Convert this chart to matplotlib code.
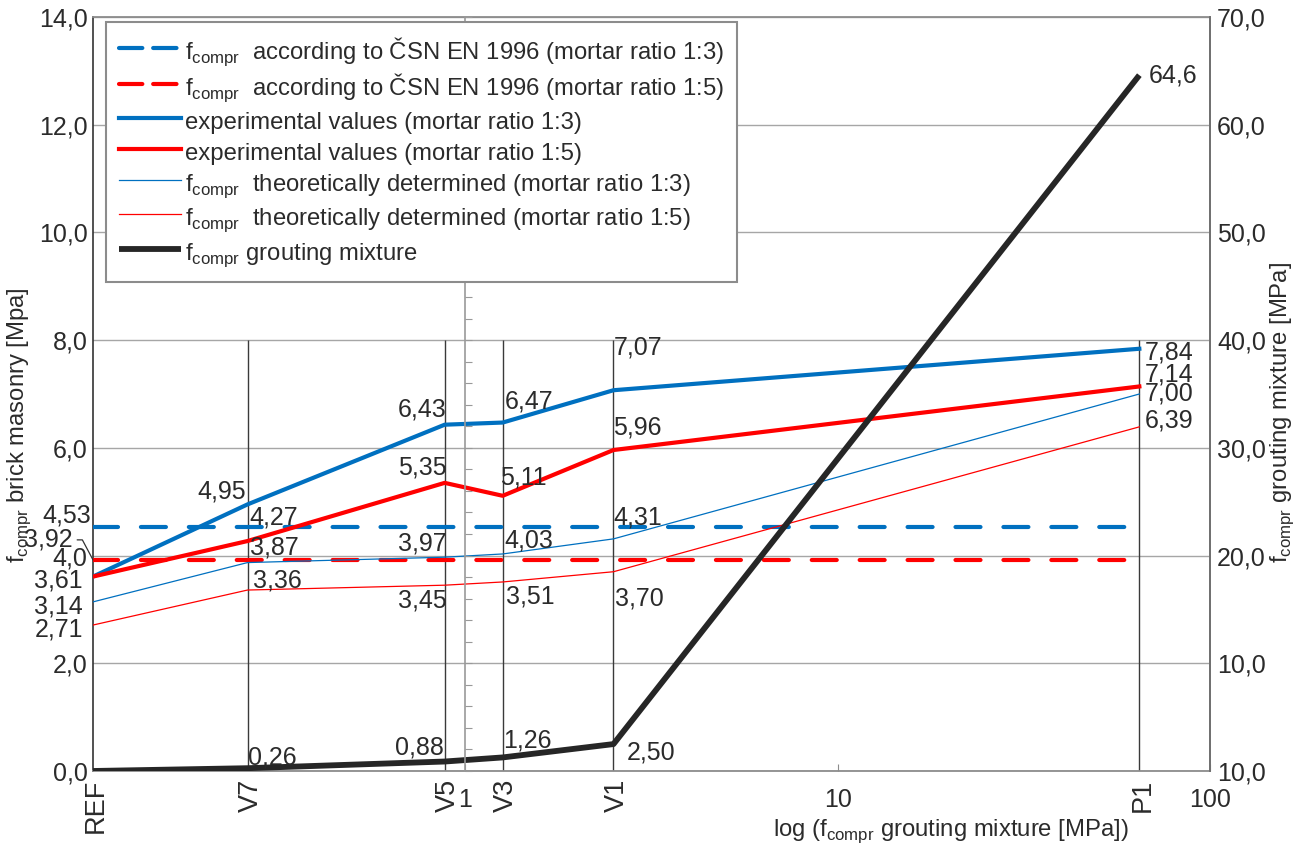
import numpy as np
import matplotlib
matplotlib.use('Agg')
import matplotlib.pyplot as plt
from matplotlib import font_manager
from matplotlib.lines import Line2D

# --- data ---
categories = ['REF', 'V7', 'V5', 'V3', 'V1', 'P1']
x_pos = [0.1, 0.26, 0.88, 1.26, 2.50, 64.6]        # REF drawn at axis start (log 0 impossible)
grout = [0.0, 0.26, 0.88, 1.26, 2.50, 64.6]        # right axis
exp_13 = [3.61, 4.95, 6.43, 6.47, 7.07, 7.84]
exp_15 = [3.61, 4.27, 5.35, 5.11, 5.96, 7.14]
theo_13 = [3.14, 3.87, 3.97, 4.03, 4.31, 7.00]
theo_15 = [2.71, 3.36, 3.45, 3.51, 3.70, 6.39]
csn_13 = 4.53
csn_15 = 3.92

left_ticks = [0, 2, 4, 6, 8, 10, 12, 14]
left_ticklabels = ['0,0', '2,0', '4,0', '6,0', '8,0', '10,0', '12,0', '14,0']
right_ticks = [0, 10, 20, 30, 40, 50, 60, 70]
right_ticklabels = ['10,0', '10,0', '20,0', '30,0', '40,0', '50,0', '60,0', '70,0']

names = {f.name for f in font_manager.fontManager.ttflist}
if 'Liberation Sans Narrow' in names:
    narrow, nscale = 'Liberation Sans Narrow', 1.0
else:
    narrow, nscale = 'Liberation Sans', 0.82
plt.rcParams['font.family'] = ['Liberation Sans', 'DejaVu Sans']
plt.rcParams['text.color'] = '#2b2b2b'

BLUE = '#0070c0'
RED = '#ff0000'
BLACK = '#262626'
GRID = '#a6a6a6'
TXT = '#2b2b2b'
NUMSIZE = 18
LBLSIZE = 21 * nscale


def fmt(v):
    return f'{v:.2f}'.replace('.', ',')


W, H = 1301, 843
fig = plt.figure(figsize=(W / 100, H / 100), dpi=100)
ax = fig.add_axes([93 / W, 1 - 771 / H, (1210 - 93) / W, (771 - 17) / H])
ax.set_xscale('log')
ax.set_xlim(0.1, 100)
ax.set_ylim(0, 14)

ax2 = ax.twinx()
ax2.set_ylim(0, 70)
ax3 = ax.twinx()
ax3.set_ylim(0, 70)

# grid and frame
ax.set_yticks(left_ticks)
ax.set_yticklabels(left_ticklabels, fontsize=NUMSIZE, color=TXT)
ax.tick_params(axis='y', length=0, pad=4)
ax.yaxis.grid(True, color=GRID, lw=1.0)
ax.set_axisbelow(True)
ax.set_xticks([1, 10, 100])
ax.set_xticklabels(['1', '10', '100'], fontsize=NUMSIZE, color=TXT)
ax.xaxis.set_minor_locator(matplotlib.ticker.NullLocator())
ax.tick_params(axis='x', direction='in', length=5, color='#8c8c8c', pad=12)
for s in ['top', 'bottom', 'right']:
    ax.spines[s].set_color('#8c8c8c')
    ax.spines[s].set_linewidth(1.3)
ax.spines['left'].set_color('#333333')
ax.spines['left'].set_linewidth(1.2)

ax2.set_yticks(right_ticks)
ax2.set_yticklabels(right_ticklabels, fontsize=NUMSIZE, color=TXT)
ax2.tick_params(axis='y', length=0, pad=5)
for s in ['top', 'bottom', 'left']:
    ax2.spines[s].set_visible(False)
ax2.spines['right'].set_color('#6e6e6e')
ax2.spines['right'].set_linewidth(1.3)

# secondary axis line crossing at x = 1
for s in ['top', 'bottom', 'right']:
    ax3.spines[s].set_visible(False)
ax3.spines['left'].set_position(('data', 1.0))
ax3.spines['left'].set_color('#999999')
ax3.spines['left'].set_linewidth(1.2)
ax3.yaxis.set_ticks_position('left')
ax3.set_yticks(np.arange(0, 71, 2))
ax3.tick_params(axis='y', direction='in', length=5, color='#999999', labelleft=False, labelright=False)

# category drop lines
ax.vlines(x_pos[1:], 0, 8, color='#3a3a3a', lw=1.0, zorder=1)

# series
lw_thick = 3.0
l1, = ax.plot([x_pos[0], x_pos[-1]], [csn_13, csn_13], color=BLUE, lw=lw_thick,
              dashes=(6, 5.5), dash_capstyle='round', zorder=3)
l2, = ax.plot([x_pos[0], x_pos[-1]], [csn_15, csn_15], color=RED, lw=lw_thick,
              dashes=(6, 5.5), dash_capstyle='round', zorder=3)
l3, = ax.plot(x_pos, exp_13, color=BLUE, lw=lw_thick, zorder=4)
l4, = ax.plot(x_pos, exp_15, color=RED, lw=lw_thick, zorder=4)
l5, = ax.plot(x_pos, theo_13, color=BLUE, lw=0.9, zorder=4)
l6, = ax.plot(x_pos, theo_15, color=RED, lw=0.9, zorder=4)
l7, = ax2.plot(x_pos, grout, color=BLACK, lw=4.2, solid_capstyle='butt', zorder=4)

# data labels: (dx, dy) in pixels and horizontal alignment
off_exp13 = [(-10, -4, 'right'), (-2, 13, 'right'), (2, 15, 'right'), (2, 21, 'left'), (0, 43, 'left'), (5, -4, 'left')]
off_exp15 = [None, (2, 24, 'left'), (2, 15, 'right'), (-3, 18, 'left'), (0, 23, 'left'), (5, 12, 'left')]
off_theo13 = [(-10, -5, 'right'), (2, 15, 'left'), (2, 14, 'right'), (2, 13, 'left'), (0, 21, 'left'), (5, 1, 'left')]
off_theo15 = [(-10, -4, 'right'), (5, 10, 'left'), (2, -15, 'right'), (3, -15, 'left'), (2, -27, 'left'), (5, 6, 'left')]
off_grout = [None, (0, 11, 'left'), (-1, 14, 'right'), (0, 17, 'left'), (13, -8, 'left'), (9, 0, 'left')]

for axis, vals, offs in [(ax, exp_13, off_exp13), (ax, exp_15, off_exp15),
                         (ax, theo_13, off_theo13), (ax, theo_15, off_theo15),
                         (ax2, grout, off_grout)]:
    for x, v, o in zip(x_pos, vals, offs):
        if o is None:
            continue
        txt = fmt(v) if v < 10 else f'{v:.1f}'.replace('.', ',')
        axis.annotate(txt, (x, v), xytext=(o[0], o[1]), textcoords='offset pixels',
                      ha=o[2], va='center', fontsize=NUMSIZE, color=TXT,
                      annotation_clip=False, zorder=6)

ax.annotate(fmt(csn_13), (x_pos[0], csn_13), xytext=(-2, 12), textcoords='offset pixels',
            ha='right', va='center', fontsize=NUMSIZE, color=TXT, annotation_clip=False)
ax.annotate(fmt(csn_15), (x_pos[0], csn_15), xytext=(-20, 20), textcoords='offset pixels',
            ha='right', va='center', fontsize=NUMSIZE, color=TXT, annotation_clip=False,
            arrowprops=dict(arrowstyle='-', color='#333333', lw=0.9, shrinkA=1, shrinkB=0,
                            connectionstyle='angle,angleA=0,angleB=-62,rad=0'))

# category labels under the axis
for x, c in zip(x_pos, categories):
    ax.annotate(c, (x, 0), xycoords=('data', 'axes fraction'), xytext=(3, -8),
                textcoords='offset pixels', rotation=90, ha='center', va='top',
                fontsize=19.5, color=TXT, annotation_clip=False)

sub = r'f$_{\mathregular{compr}}$'
ax.set_ylabel(sub + ' brick masonry [Mpa]', family=narrow, fontsize=LBLSIZE, color=TXT)
ax.yaxis.set_label_coords(-0.054, 0.459)
ax2.set_ylabel(sub + ' grouting mixture [MPa]', family=narrow, fontsize=LBLSIZE, color=TXT)
ax2.yaxis.set_label_coords(1.052, 0.475)
ax.set_xlabel('log (' + sub + ' grouting mixture [MPa])', family=narrow, fontsize=LBLSIZE, color=TXT)
ax.xaxis.set_label_coords(0.768, -0.062)

# legend proxies for the dashed entries (shorter dash pattern inside the box)
h1 = Line2D([], [], color=BLUE, lw=lw_thick, dashes=(5.6, 2.6), dash_capstyle='round')
h2 = Line2D([], [], color=RED, lw=lw_thick, dashes=(5.6, 2.6), dash_capstyle='round')
labels = [sub + '  according to ČSN EN 1996 (mortar ratio 1:3)',
          sub + '  according to ČSN EN 1996 (mortar ratio 1:5)',
          'experimental values (mortar ratio 1:3)',
          'experimental values (mortar ratio 1:5)',
          sub + '  theoretically determined (mortar ratio 1:3)',
          sub + '  theoretically determined (mortar ratio 1:5)',
          sub + ' grouting mixture']
leg = fig.legend([h1, h2, l3, l4, l5, l6, l7], labels, loc='upper left',
                 bbox_to_anchor=(106 / W, 1 - 22 / H), prop={'family': [narrow, 'DejaVu Sans'], 'size': LBLSIZE},
                 frameon=True, fancybox=False, edgecolor='#8c8c8c', framealpha=1,
                 borderaxespad=0, handlelength=2.6, handleheight=1.4, handletextpad=0.15,
                 labelspacing=0.14, borderpad=0.55)
leg.get_frame().set_linewidth(1.5)
for t in leg.get_texts():
    t.set_color(TXT)

fig.savefig('out.png', dpi=100)
